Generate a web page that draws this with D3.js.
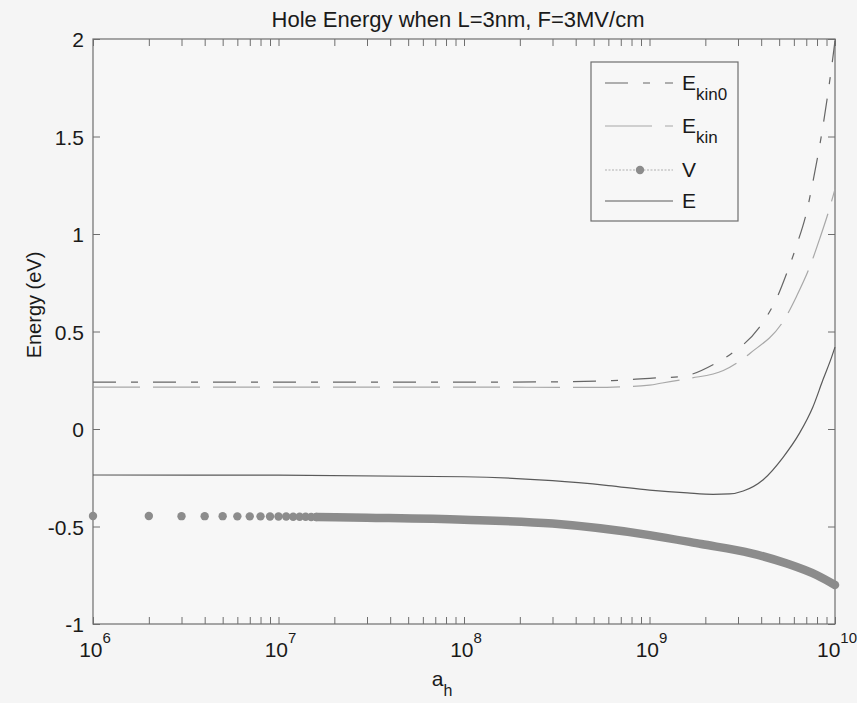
<!DOCTYPE html>
<html>
<head>
<meta charset="utf-8">
<script src="https://cdn.jsdelivr.net/npm/d3@7"></script>
<style>
  body { margin: 0; background: #f5f5f5; }
  svg { display: block; font-family: "Liberation Sans", Arial, sans-serif; }
</style>
</head>
<body>
<div id="chart"></div>
<script>
// values: a_h (x) and energy in eV (y)

// E_kin0
const ekin0A = [1e6, 1e7, 1e8, 3.2e8, 6.3e8, 1e9, 1.5e9, 2.3e9, 2.7e9, 3.9e9, 4.4e9, 4.9e9, 5.5e9, 6.2e9, 7.1e9, 7.5e9, 8.6e9, 9.6e9, 1e10];
const ekin0E = [0.24, 0.24, 0.24, 0.242, 0.248, 0.26, 0.27, 0.34, 0.38, 0.52, 0.595, 0.68, 0.80, 0.94, 1.13, 1.24, 1.55, 1.86, 1.99];

// E_kin
const ekinA = [1e6, 1e7, 1e8, 5e8, 1e9, 1.17e9, 1.65e9, 2.5e9, 3.5e9, 5.4e9, 6.2e9, 7.3e9, 8.3e9, 9.2e9, 1e10];
const ekinE = [0.215, 0.215, 0.215, 0.213, 0.225, 0.236, 0.26, 0.30, 0.39, 0.57, 0.68, 0.83, 0.98, 1.11, 1.23];

// V: separate markers at the left, then they merge into a band
const vDotA = [1e6, 2e6, 3e6, 4e6, 5e6, 6e6, 7e6, 8e6, 9e6, 1e7, 1.1e7, 1.2e7, 1.3e7, 1.4e7, 1.5e7, 1.6e7];
const vDotE = [-0.446, -0.446, -0.447, -0.447, -0.447, -0.448, -0.448, -0.448, -0.449, -0.449, -0.449, -0.450, -0.450, -0.450, -0.451, -0.451];
const vBandA = [1.6e7, 3e7, 1e8, 3e8, 1e9, 1.9e9, 3.5e9, 5.5e9, 8e9, 1e10];
const vBandE = [-0.451, -0.455, -0.465, -0.485, -0.544, -0.59, -0.636, -0.69, -0.75, -0.80];

// E
const eA = [1e6, 1e7, 1e8, 3e8, 6e8, 1e9, 1.6e9, 2.2e9, 2.7e9, 3.2e9, 4.1e9, 5.25e9, 6.45e9, 7.6e9, 8.6e9, 9.6e9, 1e10];
const eE = [-0.236, -0.237, -0.245, -0.265, -0.29, -0.313, -0.328, -0.335, -0.333, -0.318, -0.26, -0.145, -0.02, 0.113, 0.251, 0.37, 0.42];

const yTicks = [-1, -0.5, 0, 0.5, 1, 1.5, 2];
const xDecades = [6, 7, 8, 9, 10];
const legendNames = [["E", "kin0"], ["E", "kin"], ["V", ""], ["E", ""]];

const W = 857, H = 703;
const pl = 93, pr = 835, pt = 39, pb = 624;

const svg = d3.select("#chart").append("svg")
    .attr("width", W)
    .attr("height", H)
    .style("background", "#f5f5f5");

const x = d3.scaleLog().domain([1e6, 1e10]).range([pl, pr]);
const y = d3.scaleLinear().domain([-1, 2]).range([pb, pt]);

const axisColor = "#6e6e6e";
const textColor = "#1a1a1a";

// plot box
svg.append("rect")
    .attr("x", pl).attr("y", pt)
    .attr("width", pr - pl).attr("height", pb - pt)
    .attr("fill", "#f7f7f7")
    .attr("stroke", axisColor)
    .attr("stroke-width", 1.2);

// ticks, pointing inwards on all four sides
const xTickVals = x.ticks();
function styleAxis(g) {
    g.select(".domain").remove();
    g.selectAll(".tick line").attr("stroke", axisColor).attr("stroke-width", 1);
}
svg.append("g").attr("transform", `translate(0,${pb})`)
    .call(d3.axisBottom(x).tickValues(xTickVals).tickSize(-7).tickFormat(""))
    .call(styleAxis);
svg.append("g").attr("transform", `translate(0,${pt})`)
    .call(d3.axisTop(x).tickValues(xTickVals).tickSize(-7).tickFormat(""))
    .call(styleAxis);
svg.append("g").attr("transform", `translate(${pr},0)`)
    .call(d3.axisRight(y).tickValues(yTicks).tickSize(-7).tickFormat(""))
    .call(styleAxis);
const yAxis = svg.append("g").attr("transform", `translate(${pl},0)`)
    .call(d3.axisLeft(y).tickValues(yTicks).tickSize(-7).tickPadding(9)
        .tickFormat(d => String(d)))
    .call(styleAxis);
yAxis.selectAll(".tick text")
    .attr("fill", textColor)
    .style("font-size", "21px")
    .attr("dy", "0.36em");

// x decade labels 10^n
const xl = svg.append("g").selectAll("text")
    .data(xDecades)
    .join("text")
    .attr("x", d => x(Math.pow(10, d)) + 2)
    .attr("y", 657)
    .attr("text-anchor", "middle")
    .attr("fill", textColor)
    .style("font-size", "21px");
xl.append("tspan").text("10");
xl.append("tspan").attr("dy", -14).style("font-size", "15px").text(d => d);

// axis labels and title
svg.append("text")
    .attr("x", 458).attr("y", 27)
    .attr("text-anchor", "middle")
    .attr("fill", textColor)
    .style("font-size", "22px")
    .text("Hole Energy when L=3nm, F=3MV/cm");

const xlab = svg.append("text")
    .attr("x", 442).attr("y", 686)
    .attr("text-anchor", "middle")
    .attr("fill", textColor)
    .style("font-size", "21px");
xlab.append("tspan").text("a");
xlab.append("tspan").attr("dy", 10).style("font-size", "16px").text("h");

svg.append("text")
    .attr("transform", "translate(41,305) rotate(-90)")
    .attr("text-anchor", "middle")
    .attr("fill", textColor)
    .style("font-size", "20px")
    .text("Energy (eV)");

// curves
const line = d3.line()
    .x(d => x(d[0]))
    .y(d => y(d[1]))
    .curve(d3.curveMonotoneX);

const plot = svg.append("g");

// V band (markers merge together)
plot.append("path")
    .attr("d", line(d3.zip(vBandA, vBandE)))
    .attr("fill", "none")
    .attr("stroke", "#8c8c8c")
    .attr("stroke-width", 8.5)
    .attr("stroke-linecap", "round");
plot.selectAll("circle.v")
    .data(d3.zip(vDotA, vDotE))
    .join("circle")
    .attr("class", "v")
    .attr("cx", d => x(d[0]))
    .attr("cy", d => y(d[1]))
    .attr("r", 4.2)
    .attr("fill", "#8c8c8c");

plot.append("path")
    .attr("d", line(d3.zip(ekinA, ekinE)))
    .attr("fill", "none")
    .attr("stroke", "#a8a8a8")
    .attr("stroke-width", 1.2)
    .attr("stroke-dasharray", "47,13");

plot.append("path")
    .attr("d", line(d3.zip(ekin0A, ekin0E)))
    .attr("fill", "none")
    .attr("stroke", "#666")
    .attr("stroke-width", 1.2)
    .attr("stroke-dasharray", "23,15,7,15");

plot.append("path")
    .attr("d", line(d3.zip(eA, eE)))
    .attr("fill", "none")
    .attr("stroke", "#5a5a5a")
    .attr("stroke-width", 1.2);

// legend
const lg = svg.append("g");
lg.append("rect")
    .attr("x", 591).attr("y", 62)
    .attr("width", 147).attr("height", 159)
    .attr("fill", "#f7f7f7")
    .attr("stroke", axisColor)
    .attr("stroke-width", 1.2);

const rowBase = [90, 133, 177, 208];
const legendStyle = [
    {stroke: "#666", dash: "23,15,7,15"},
    {stroke: "#a8a8a8", dash: "47,13"},
    {stroke: "#b0b0b0", dash: "2,1.5"},
    {stroke: "#5a5a5a", dash: null}
];
legendNames.forEach((nm, i) => {
    const ly = rowBase[i] - 7;
    const st = legendStyle[i];
    lg.append("line").attr("x1", 605).attr("x2", 673).attr("y1", ly).attr("y2", ly)
        .attr("stroke", st.stroke).attr("stroke-width", 1.2)
        .attr("stroke-dasharray", st.dash);
    if (i === 2) {
        lg.append("circle").attr("cx", 640).attr("cy", ly).attr("r", 4.2).attr("fill", "#8c8c8c");
    }
    const t = lg.append("text")
        .attr("x", 682).attr("y", rowBase[i])
        .attr("fill", textColor)
        .style("font-size", "21px");
    t.append("tspan").text(nm[0]);
    if (nm[1]) t.append("tspan").attr("dy", 10).style("font-size", "17px").text(nm[1]);
});
</script>
</body>
</html>
